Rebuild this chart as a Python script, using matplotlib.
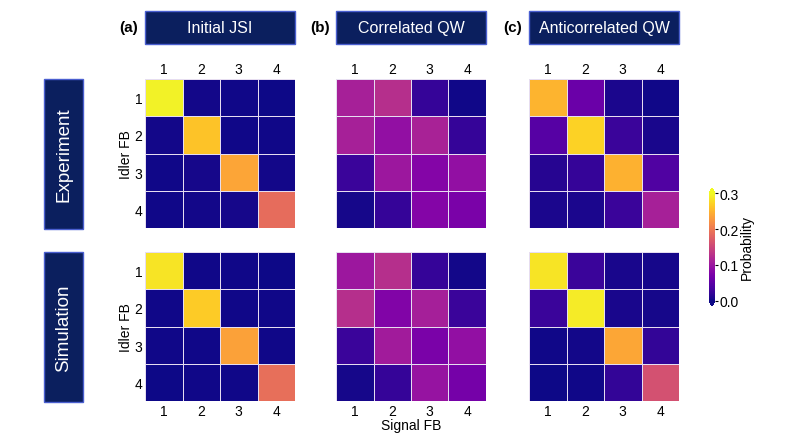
import matplotlib.pyplot as plt
import matplotlib.patches as mpatches
import numpy as np

plt.rcParams['font.family'] = ['Liberation Sans', 'DejaVu Sans']

fb_labels = ['1', '2', '3', '4']
col_titles = ['Initial JSI', 'Correlated QW', 'Anticorrelated QW']
col_tags = ['(a)', '(b)', '(c)']
row_titles = ['Experiment', 'Simulation']

# Probabilities, rows = idler FB, columns = signal FB
jsi_exp = [[0.295, 0.003, 0.002, 0.001],
           [0.003, 0.262, 0.002, 0.002],
           [0.002, 0.004, 0.238, 0.003],
           [0.002, 0.003, 0.004, 0.188]]
jsi_sim = [[0.285, 0.002, 0.002, 0.001],
           [0.002, 0.268, 0.002, 0.002],
           [0.002, 0.002, 0.235, 0.002],
           [0.001, 0.002, 0.002, 0.190]]
cor_exp = [[0.110, 0.125, 0.022, 0.002],
           [0.110, 0.092, 0.112, 0.022],
           [0.025, 0.100, 0.080, 0.092],
           [0.004, 0.022, 0.080, 0.072]]
cor_sim = [[0.100, 0.125, 0.022, 0.003],
           [0.125, 0.078, 0.108, 0.025],
           [0.025, 0.105, 0.072, 0.092],
           [0.004, 0.022, 0.095, 0.068]]
anti_exp = [[0.250, 0.060, 0.006, 0.002],
            [0.045, 0.272, 0.025, 0.005],
            [0.012, 0.022, 0.248, 0.040],
            [0.006, 0.006, 0.025, 0.110]]
anti_sim = [[0.285, 0.025, 0.005, 0.004],
            [0.025, 0.290, 0.005, 0.004],
            [0.002, 0.003, 0.240, 0.020],
            [0.001, 0.002, 0.020, 0.160]]

data = [[jsi_exp, cor_exp, anti_exp],
        [jsi_sim, cor_sim, anti_sim]]

W, H = 793, 439
fig = plt.figure(figsize=(W / 100, H / 100), dpi=100)

box_face = '#0b1f5e'
box_edge = '#4a5fd0'

def px_axes(x, y, w, h):
    return fig.add_axes([x / W, 1 - (y + h) / H, w / W, h / H])

def px_box(x, y, w, h, text, rot=0, size=11.5):
    rect = mpatches.Rectangle((x / W, 1 - (y + h) / H), w / W, h / H,
                              transform=fig.transFigure, facecolor=box_face,
                              edgecolor=box_edge, linewidth=1)
    fig.patches.append(rect)
    fig.text((x + w / 2) / W, 1 - (y + h / 2) / H, text, color='white',
             fontsize=size, ha='center', va='center', rotation=rot)

col_x = [145, 336, 529]
row_y = [80, 253]
size_w, size_h = 150, 149

mesh = None
for r in range(2):
    for c in range(3):
        ax = px_axes(col_x[c], row_y[r], size_w, size_h)
        mesh = ax.pcolormesh(np.array(data[r][c]), cmap='plasma', vmin=0, vmax=0.3,
                             edgecolors='#e6ddf0', linewidth=0.6)
        ax.set_xlim(0, 4)
        ax.set_ylim(4, 0)
        for s in ax.spines.values():
            s.set_visible(False)
        ax.tick_params(length=0, labelsize=10, pad=2)
        ax.set_xticks(np.arange(4) + 0.5)
        ax.set_yticks(np.arange(4) + 0.5)
        if r == 0:
            ax.xaxis.tick_top()
        ax.set_xticklabels(fb_labels)
        if c == 0:
            ax.set_yticklabels(fb_labels)
            ax.set_ylabel('Idler FB', fontsize=10, labelpad=1)
        else:
            ax.set_yticklabels([])
        if r == 1 and c == 1:
            ax.set_xlabel('Signal FB', fontsize=10, labelpad=0)

for c in range(3):
    px_box(col_x[c], 12, size_w, 33, col_titles[c])
    fig.text((col_x[c] - 16) / W, 1 - 28 / H, col_tags[c], fontsize=11,
             fontweight='bold', ha='center', va='center')

for r in range(2):
    px_box(44, row_y[r], 39, size_h + 1, row_titles[r], rot=90, size=13.5)

cax = px_axes(709, 189, 6, 118)
cb = fig.colorbar(mesh, cax=cax, extend='both', ticks=[0, 0.1, 0.2, 0.3])
cb.ax.set_yticklabels(['0.0', '0.1', '0.2', '0.3'])
cb.ax.tick_params(labelsize=10, length=2, pad=1)
cb.set_label('Probability', fontsize=10, labelpad=1)
cb.outline.set_visible(False)

fig.savefig('out.png', dpi=100)
